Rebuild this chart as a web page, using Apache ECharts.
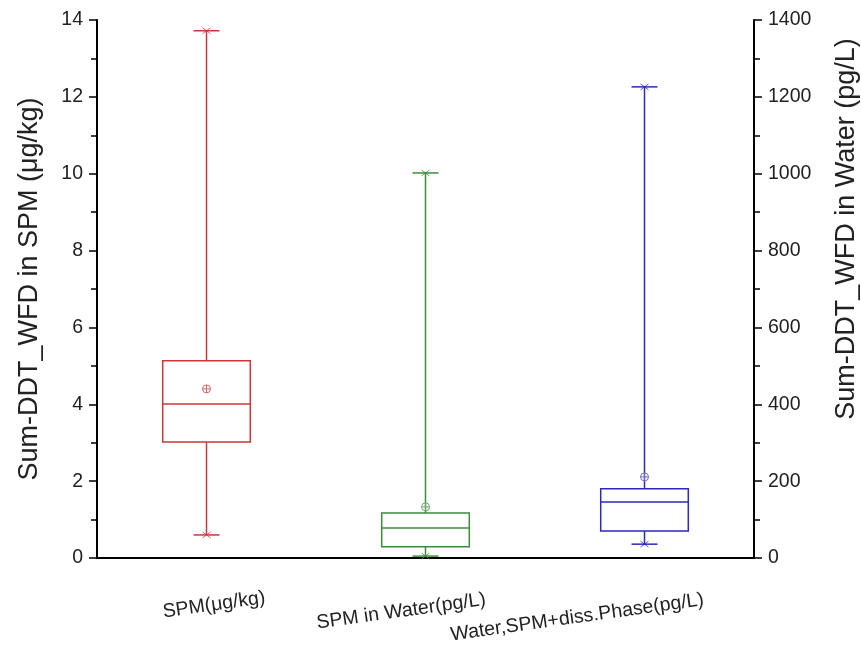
<!DOCTYPE html>
<html>
<head>
<meta charset="utf-8">
<script src="https://cdn.jsdelivr.net/npm/echarts@6/dist/echarts.min.js"></script>
<style>
    html, body { margin: 0; padding: 0; background: #fff; }
    #main { width: 861px; height: 650px; }
</style>
</head>
<body>
<div id="main"></div>
<script>
// categories on the x axis
const categories = ['SPM(μg/kg)', 'SPM in Water(pg/L)', 'Water,SPM+diss.Phase(pg/L)'];
// box stats: [min, q1, median, q3, max, mean]
const spmStats = [0.6, 3.02, 4.01, 5.13, 13.72, 4.4];      // left axis, μg/kg
const waterStats = [5, 29, 78, 117, 1002, 133];          // right axis, pg/L
const totalStats = [36, 70, 146, 180, 1226, 211];        // right axis, pg/L
const boxColors = ['#c8373c', '#3d8c3d', '#2a2ab4'];
const meanColors = ['#d06a6e', '#6aa86a', '#6b6bc4'];

const fontFamily = '"Liberation Sans", Arial, sans-serif';

function renderBox(params, api) {
    const x = api.value(0);
    const color = boxColors[x];
    const pMin = api.coord([x, api.value(1)]);
    const pQ1 = api.coord([x, api.value(2)]);
    const pMed = api.coord([x, api.value(3)]);
    const pQ3 = api.coord([x, api.value(4)]);
    const pMax = api.coord([x, api.value(5)]);
    const pMean = api.coord([x, api.value(6)]);
    const bw = api.size([1, 0])[0] * 0.4;
    const cap = 13;
    const cx = pMed[0];
    const line = { stroke: color, lineWidth: 1.5, fill: null };
    const thin = { stroke: color, lineWidth: 1, fill: null, opacity: 0.75 };
    const cross = (p) => [
        { type: 'line', shape: { x1: p[0] - 4, y1: p[1] - 3, x2: p[0] + 4, y2: p[1] + 3 }, style: thin },
        { type: 'line', shape: { x1: p[0] - 4, y1: p[1] + 3, x2: p[0] + 4, y2: p[1] - 3 }, style: thin }
    ];
    const mc = meanColors[x];
    const r = 4;
    return {
        type: 'group',
        children: [
            { type: 'line', shape: { x1: cx, y1: pQ3[1], x2: cx, y2: pMax[1] }, style: line },
            { type: 'line', shape: { x1: cx, y1: pQ1[1], x2: cx, y2: pMin[1] }, style: line },
            { type: 'line', shape: { x1: cx - cap, y1: pMax[1], x2: cx + cap, y2: pMax[1] }, style: line },
            { type: 'line', shape: { x1: cx - cap, y1: pMin[1], x2: cx + cap, y2: pMin[1] }, style: line },
            ...cross(pMax),
            ...cross(pMin),
            { type: 'rect', shape: { x: cx - bw / 2, y: pQ3[1], width: bw, height: pQ1[1] - pQ3[1] }, style: line },
            { type: 'line', shape: { x1: cx - bw / 2, y1: pMed[1], x2: cx + bw / 2, y2: pMed[1] }, style: line },
            { type: 'circle', shape: { cx: cx, cy: pMean[1], r: r }, style: { stroke: mc, lineWidth: 1, fill: null } },
            { type: 'line', shape: { x1: cx - r, y1: pMean[1], x2: cx + r, y2: pMean[1] }, style: { stroke: mc, lineWidth: 1 } },
            { type: 'line', shape: { x1: cx, y1: pMean[1] - r, x2: cx, y2: pMean[1] + r }, style: { stroke: mc, lineWidth: 1 } }
        ]
    };
}

const axisText = { color: '#222', fontSize: 19.5, fontFamily: fontFamily };
const xText = { color: '#222', fontSize: 19.5, fontFamily: fontFamily, align: 'left' };

const option = {
    animation: false,
    grid: { left: 97, right: 107, top: 20, bottom: 92, outerBoundsMode: 'none' },
    xAxis: {
        type: 'category',
        data: categories,
        axisLine: { lineStyle: { color: '#000', width: 2 } },
        axisTick: { alignWithLabel: true, length: 8, lineStyle: { color: '#000', width: 1.5 } },
        axisLabel: {
            rotate: 8,
            margin: 48,
            interval: 0,
            formatter: (value, index) => '{l' + index + '|' + value + '}',
            rich: {
                l0: Object.assign({ width: 44 }, xText),
                l1: Object.assign({ width: 110, padding: [4, 0, 0, 0] }, xText),
                l2: Object.assign({ width: 196, padding: [4, 0, 0, 0] }, xText)
            }
        },
        splitLine: { show: false }
    },
    yAxis: [
        {
            type: 'value',
            min: 0, max: 14, interval: 2,
            name: 'Sum-DDT_WFD in SPM (μg/kg)',
            nameLocation: 'middle',
            nameGap: 54,
            nameTextStyle: { color: '#222', fontSize: 27, fontFamily: fontFamily },
            axisLine: { show: true, lineStyle: { color: '#000', width: 2 } },
            axisTick: { show: true, length: 8, lineStyle: { color: '#000', width: 1.5 } },
            minorTick: { show: true, splitNumber: 2, length: 6, lineStyle: { color: '#000', width: 1.5 } },
            axisLabel: Object.assign({ margin: 14 }, axisText),
            splitLine: { show: false }
        },
        {
            type: 'value',
            position: 'right',
            min: 0, max: 1400, interval: 200,
            name: 'Sum-DDT_WFD in Water (pg/L)',
            nameLocation: 'middle',
            nameGap: 79,
            nameTextStyle: { color: '#222', fontSize: 27, fontFamily: fontFamily, padding: [0, 0, 0, 120] },
            axisLine: { show: true, lineStyle: { color: '#000', width: 2 } },
            axisTick: { show: true, length: 8, lineStyle: { color: '#000', width: 1.5 } },
            minorTick: { show: true, splitNumber: 2, length: 6, lineStyle: { color: '#000', width: 1.5 } },
            axisLabel: Object.assign({ margin: 14, formatter: (v) => String(v) }, axisText),
            splitLine: { show: false }
        }
    ],
    series: [
        {
            type: 'custom',
            yAxisIndex: 0,
            clip: false,
            renderItem: renderBox,
            encode: { x: 0, y: [1, 2, 3, 4, 5, 6] },
            data: [[0].concat(spmStats)]
        },
        {
            type: 'custom',
            yAxisIndex: 1,
            clip: false,
            renderItem: renderBox,
            encode: { x: 0, y: [1, 2, 3, 4, 5, 6] },
            data: [[1].concat(waterStats), [2].concat(totalStats)]
        }
    ]
};

const chart = echarts.init(document.getElementById('main'));
chart.setOption(option);
</script>
</body>
</html>
